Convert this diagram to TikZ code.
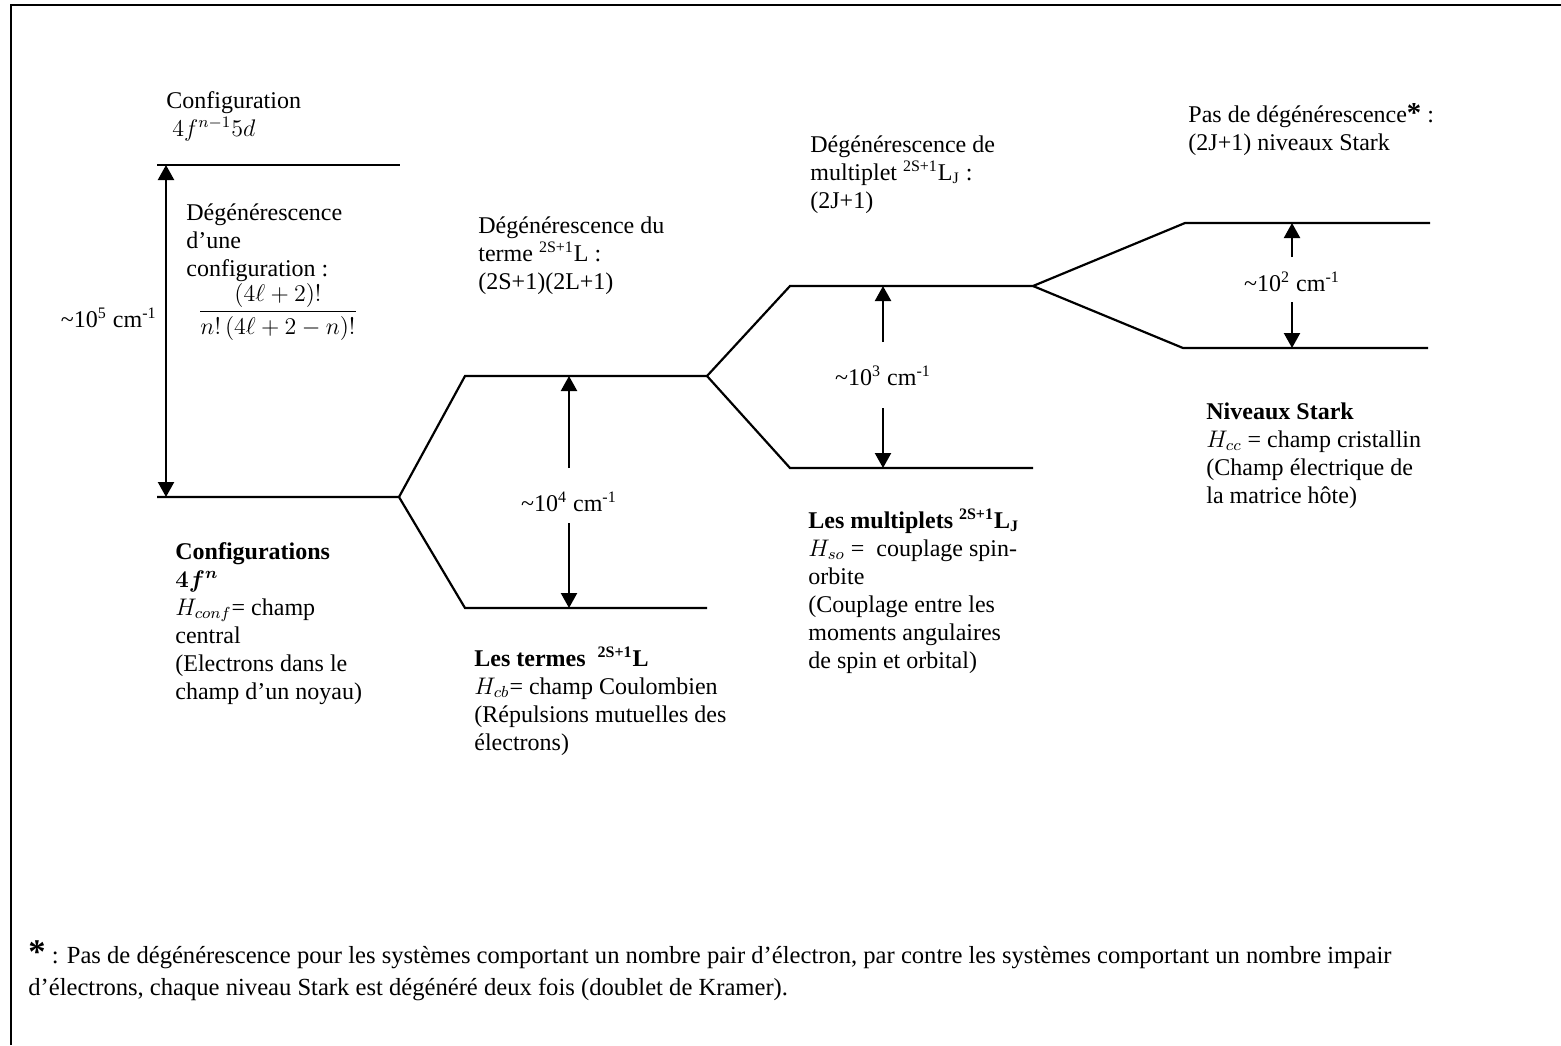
\documentclass[tikz,border=0pt]{standalone}
\usepackage{amsmath}
\usepackage{fontspec}
\setmainfont{Liberation Serif}
\usetikzlibrary{arrows.meta}

\tikzstyle{lvl} = [draw, line width=1.1pt]
\tikzstyle{gap} = [draw, line width=1.1pt, -{Triangle[length=7.5pt,width=8pt]}]
\tikzstyle{gapboth} = [draw, line width=1.1pt, {Triangle[length=7.5pt,width=8pt]}-{Triangle[length=7.5pt,width=8pt]}]
\tikzstyle{txt} = [anchor=base west, align=left, inner sep=0pt, font=\fontsize{12}{14}\selectfont]
\tikzstyle{val} = [inner sep=0pt, font=\fontsize{12}{14}\selectfont]

\newcommand{\termsym}{\textsuperscript{2S+1}L}
\newcommand{\cmun}[1]{\textasciitilde10\textsuperscript{#1} cm\textsuperscript{-1}}

\begin{document}
\begin{tikzpicture}[x=0.5pt, y=-0.5pt]
		\useasboundingbox (0,0) rectangle (1561,1045);
		\draw[line width=1.1pt] (11,1045) -- (11,5) -- (1561,5);
		
		% niveaux
		\coordinate (up5dL) at (157,165);
		\coordinate (up5dR) at (400,165);
		\coordinate (fnL) at (157,497);
		\coordinate (fnR) at (399,497);
		\coordinate (termhiL) at (465,376);
		\coordinate (termhiR) at (707,376);
		\coordinate (termloL) at (465,608);
		\coordinate (termloR) at (707,608);
		\coordinate (multhiL) at (790,286);
		\coordinate (multhiR) at (1033,286);
		\coordinate (multloL) at (790,468);
		\coordinate (multloR) at (1033,468);
		\coordinate (starkhiL) at (1185,223);
		\coordinate (starkhiR) at (1430,223);
		\coordinate (starkloL) at (1183,348);
		\coordinate (starkloR) at (1428,348);
		
		\path [lvl] (up5dL) -- (up5dR);
		\path [lvl] (fnL) -- (fnR) -- (termhiL) -- (termhiR) -- (multhiL) -- (multhiR) -- (starkhiL) -- (starkhiR);
		\path [lvl] (fnR) -- (termloL) -- (termloR);
		\path [lvl] (termhiR) -- (multloL) -- (multloR);
		\path [lvl] (multhiR) -- (starkloL) -- (starkloR);
		
		% ecarts
		\path [gapboth] ([xshift=4.5pt]fnL) -- ([xshift=4.5pt]up5dL);
		\node [val, anchor=east] (v5) at (157,318) {\cmun{5}};
		
		\node [val] (v4) at (569,502) {\cmun{4}};
		\path [gap] ([yshift=17pt]v4.center) -- (v4 |- termhiL);
		\path [gap] ([yshift=-10.5pt]v4.center) -- (v4 |- termloL);
		
		\node [val] (v3) at (883,376) {\cmun{3}};
		\path [gap] ([yshift=17pt]v3.center) -- (v3 |- multhiL);
		\path [gap] ([yshift=-16pt]v3.center) -- (v3 |- multloL);
		
		\node [val] (v2) at (1292,282) {\cmun{2}};
		\path [gap] ([yshift=12.5pt]v2.center) -- (v2 |- starkhiL);
		\path [gap] ([yshift=-10pt]v2.center) -- (v2 |- starkloL);
		
		% textes (ancre sur la ligne de base de la derniere ligne)
		\node [txt] (cfg5d) at (166,136) {Configuration\\\hspace{3pt}$4f^{n-1}5d$};
		\node [txt] (degcfg) at (186,276) {Dégénérescence\\d’une\\configuration :};
		\node [val] (frac) at (278,312) {$\dfrac{(4\ell+2)!}{n!\,(4\ell+2-n)!}$};
		\node [txt] (cfgfn) at (175,699) {\textbf{Configurations}\\{\boldmath$4f^{n}$}\\$H_{conf}$= champ\\central\\(Electrons dans le\\champ d’un noyau)};
		
		\node [txt] (degterm) at (478,289) {Dégénérescence du\\terme \termsym{} :\\(2S+1)(2L+1)};
		\node [txt] (terms) at (474,750) {\textbf{Les termes \ \termsym}\\$H_{cb}$= champ Coulombien\\(Répulsions mutuelles des\\électrons)};
		
		\node [txt] (degmult) at (810,208) {Dégénérescence de\\multiplet \termsym\textsubscript{J} :\\(2J+1)};
		\node [txt] (mults) at (808,668) {\textbf{Les multiplets \termsym\textsubscript{J}}\\$H_{so}$ = \ couplage spin-\\orbite\\(Couplage entre les\\moments angulaires\\de spin et orbital)};
		
		\node [txt] (degstark) at (1188,150) {Pas de dégénérescence{\Large\textbf{*}} :\\(2J+1) niveaux Stark};
		\node [txt] (stark) at (1206,503) {\textbf{Niveaux Stark}\\$H_{cc}$ = champ cristallin\\(Champ électrique de\\la matrice hôte)};
		
		\node [txt, font=\fontsize{12.3}{14}\selectfont] (note) at (28,995) {{\LARGE\textbf{*}} : Pas de dégénérescence pour les systèmes comportant un nombre pair d’électron, par contre les systèmes comportant un nombre impair\\[2pt]d’électrons, chaque niveau Stark est dégénéré deux fois (doublet de Kramer).};
\end{tikzpicture}
\end{document}
